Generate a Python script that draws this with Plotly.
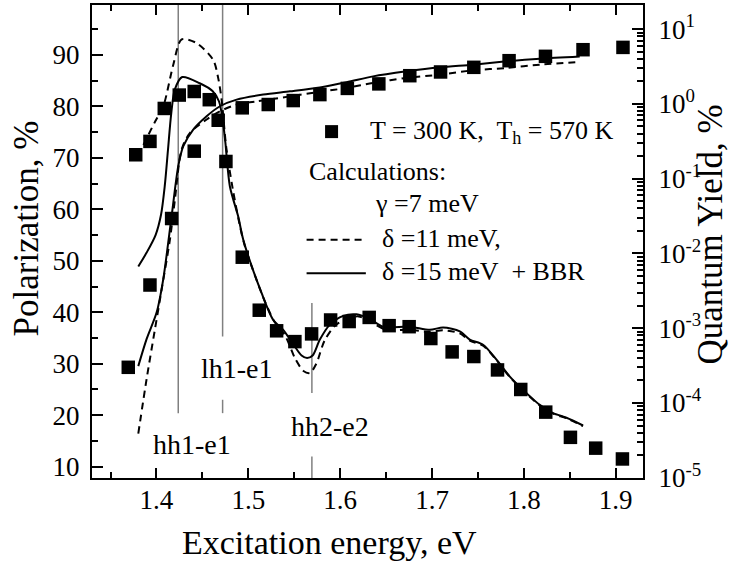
import plotly.graph_objects as go

# ---------------- data ----------------
# Measured polarization (%), left axis
pol_E = [1.3774, 1.3929, 1.4085, 1.4248, 1.4411, 1.4575, 1.4756, 1.4934, 1.5119,
         1.5308, 1.5507, 1.5689, 1.5896, 1.6098, 1.6316, 1.6533, 1.6751, 1.6987,
         1.7219, 1.7455, 1.7713, 1.7966, 1.8238, 1.8507, 1.8782, 1.9073]
pol_P = [70.6, 73.2, 79.6, 82.2, 82.9, 81.3, 69.3, 50.7, 40.4,
         36.4, 34.3, 35.8, 38.5, 38.2, 39.0, 37.4, 37.2, 34.9,
         32.3, 31.4, 28.8, 25.0, 20.6, 15.7, 13.6, 11.5]

# Measured quantum yield (%), right log axis
qy_E = [1.3693, 1.3929, 1.4165, 1.4411, 1.4672, 1.4934, 1.5217, 1.5489, 1.5779,
        1.6078, 1.6421, 1.6758, 1.7093, 1.7455, 1.7839, 1.8235, 1.8644, 1.9079]
qy_V = [3.0e-4, 3.78e-3, 0.0293, 0.233, 0.604, 0.885, 0.98, 1.107, 1.33,
        1.61, 1.85, 2.38, 2.67, 3.08, 3.78, 4.32, 5.30, 5.69]

# Calculated polarization, delta = 11 meV (dashed)
pol_dash_E = [1.3802, 1.3893, 1.3984, 1.4074, 1.4183, 1.4274, 1.4437, 1.4618, 1.4672,
              1.4709, 1.4760, 1.4830, 1.4900, 1.4960, 1.5160, 1.5290, 1.5400, 1.5510,
              1.5600, 1.5670, 1.5740, 1.5830, 1.5950, 1.6080, 1.6200, 1.6340, 1.6500,
              1.6757, 1.6976, 1.7121, 1.7303, 1.7411, 1.7556, 1.7702, 1.7847, 1.8028,
              1.8173, 1.8318, 1.8464, 1.8644]
pol_dash_P = [70.4, 73.8, 77.0, 80.0, 88.1, 93.0, 92.3, 89.0, 85.5,
              81.3, 72.0, 64.0, 57.5, 53.0, 43.0, 38.0, 35.5, 31.0,
              28.6, 28.2, 30.0, 34.5, 37.5, 38.7, 39.2, 38.0, 36.6,
              36.6, 36.2, 36.5, 35.9, 34.5, 33.5, 30.7, 27.4, 24.2,
              21.9, 20.3, 19.4, 17.9]

# Calculated polarization, delta = 15 meV + BBR (solid)
pol_sol_E = [1.3802, 1.3893, 1.3990, 1.4050, 1.4090, 1.4125, 1.4160, 1.4200, 1.4280,
             1.4470, 1.4610, 1.4680, 1.4720, 1.4750, 1.4800, 1.4890, 1.4945, 1.5145,
             1.5271, 1.5380, 1.5500, 1.5580, 1.5640, 1.5700, 1.5779, 1.5888, 1.6033,
             1.6178, 1.6323, 1.6468, 1.6757, 1.6976, 1.7121, 1.7303, 1.7411, 1.7556,
             1.7702, 1.7847, 1.8028, 1.8173, 1.8318, 1.8464, 1.8644]
pol_sol_P = [48.9, 51.6, 55.0, 59.0, 64.5, 71.5, 78.5, 83.3, 85.7,
             84.5, 83.0, 81.0, 77.5, 73.0, 64.4, 58.6, 54.1, 43.7,
             38.5, 36.6, 33.5, 31.6, 31.1, 31.6, 34.7, 37.6, 39.3,
             39.6, 38.7, 37.2, 37.2, 36.6, 37.05, 36.3, 34.7, 33.7,
             30.8, 27.5, 24.3, 22.0, 20.4, 19.5, 18.0]

# Calculated quantum yield, dashed
qy_dash_E = [1.3802, 1.3893, 1.3984, 1.4057, 1.4147, 1.4201, 1.4274, 1.4365, 1.4546,
             1.4691, 1.4873, 1.5090, 1.5453, 1.5815, 1.6070, 1.6359, 1.6723, 1.7085,
             1.7447, 1.7811, 1.8173, 1.8608]
qy_dash_V = [3.9e-5, 2.11e-4, 9.8e-4, 3.34e-3, 0.0155, 0.053, 0.246, 0.41, 0.618,
             0.796, 0.98, 1.08, 1.26, 1.47, 1.63, 1.91, 2.22, 2.46,
             2.81, 3.02, 3.34, 3.63]

# Calculated quantum yield, solid
qy_sol_E = [1.3802, 1.3893, 1.4002, 1.4074, 1.4165, 1.4237, 1.4292, 1.4400, 1.4546,
            1.4691, 1.4873, 1.5162, 1.5453, 1.5779, 1.6070, 1.6359, 1.6723, 1.7085,
            1.7447, 1.7811, 1.8173, 1.8608]
qy_sol_V = [3.11e-4, 7.19e-4, 1.63e-3, 4.54e-3, 0.0317, 0.147, 0.272, 0.454, 0.684,
            0.929, 1.14, 1.33, 1.47, 1.66, 1.94, 2.33, 2.72, 3.08,
            3.34, 3.70, 4.02, 4.31]

# Transition energies (eV) and their labels
trans_E = [1.4237, 1.4720, 1.5692]
trans_labels = ["hh1-e1", "lh1-e1", "hh2-e2"]

# Tick labels
x_ticks = [1.4, 1.5, 1.6, 1.7, 1.8, 1.9]
y_ticks = [10, 20, 30, 40, 50, 60, 70, 80, 90]
qy_exps = [-5, -4, -3, -2, -1, 0, 1]
qy_ticktext = ["10<sup>%d</sup>" % e for e in qy_exps]

# ---------------- figure ----------------
W, H = 730, 563
L, R, T, B = 92, 643.3, 5, 478.3
FONT = "Liberation Serif, Times New Roman, serif"


def px(x, y):
    return (x - L) / (R - L), (B - y) / (B - T)


fig = go.Figure()

line_w = 2
dash = "7px,5px"
fig.add_trace(go.Scatter(x=pol_dash_E, y=pol_dash_P, mode="lines", yaxis="y",
                         line=dict(color="black", width=line_w, dash=dash, shape="spline", smoothing=0.8)))
fig.add_trace(go.Scatter(x=pol_sol_E, y=pol_sol_P, mode="lines", yaxis="y",
                         line=dict(color="black", width=line_w, shape="spline", smoothing=0.8)))
fig.add_trace(go.Scatter(x=qy_dash_E, y=qy_dash_V, mode="lines", yaxis="y2",
                         line=dict(color="black", width=line_w, dash=dash, shape="spline", smoothing=0.8)))
fig.add_trace(go.Scatter(x=qy_sol_E, y=qy_sol_V, mode="lines", yaxis="y2",
                         line=dict(color="black", width=line_w, shape="spline", smoothing=0.8)))
fig.add_trace(go.Scatter(x=pol_E, y=pol_P, mode="markers", yaxis="y",
                         marker=dict(symbol="square", size=13.5, color="black")))
fig.add_trace(go.Scatter(x=qy_E, y=qy_V, mode="markers", yaxis="y2",
                         marker=dict(symbol="square", size=13.5, color="black")))

y_lo, y_hi = 7.8, 99.7
gray = "#808080"
# vertical transition lines (segments interrupted by labels)
segs = [
    (trans_E[0], 20.4, y_hi),
    (trans_E[1], 35.3, y_hi),
    (trans_E[1], 20.4, 23.0),
    (trans_E[2], 24.3, 41.8),
    (trans_E[2], y_lo, 12.0),
]
for xe, ya, yb in segs:
    fig.add_shape(type="line", xref="x", yref="y", x0=xe, x1=xe, y0=ya, y1=yb,
                  line=dict(color=gray, width=1.5), layer="below")

# transition labels
lab_pos = [(191.7, 445), (236.7, 368.3), (330, 426.7)]
for (lx, ly), txt in zip(lab_pos, trans_labels):
    ax_, ay_ = px(lx, ly)
    fig.add_annotation(x=ax_, y=ay_, xref="paper", yref="paper", text=txt, showarrow=False,
                       xanchor="center", yanchor="middle", font=dict(family=FONT, size=28, color="black"))

# legend block
sx0, sy0 = px(325.2, 138.2)
sx1, sy1 = px(338.2, 125.2)
fig.add_shape(type="rect", xref="paper", yref="paper", x0=sx0, x1=sx1, y0=sy0, y1=sy1,
              fillcolor="black", line=dict(width=0))
legend_lines = [(240, dash), (273.3, "solid")]
for ly, dsh in legend_lines:
    lx0, lyp = px(306.7, ly)
    lx1, _ = px(366.0, ly)
    fig.add_shape(type="line", xref="paper", yref="paper", x0=lx0, x1=lx1, y0=lyp, y1=lyp,
                  line=dict(color="black", width=2, dash=dsh))

legend_texts = [
    (368.3, 132, "T = 300 K,\u00a0 T<sub>h</sub> = 570 K"),
    (307.3, 172, "Calculations:"),
    (372.7, 204, "\u03b3 =7 meV"),
    (380, 239, "\u03b4 =11 meV,"),
    (380, 272, "\u03b4 =15 meV\u00a0 + BBR"),
]
for lx, ly, txt in legend_texts:
    ax_, ay_ = px(lx, ly)
    fig.add_annotation(x=ax_, y=ay_, xref="paper", yref="paper", text=txt, showarrow=False,
                       xanchor="left", yanchor="middle", font=dict(family=FONT, size=26, color="black"))

# axis titles
tx, ty = px(330, 543)
fig.add_annotation(x=tx, y=ty, xref="paper", yref="paper", text="Excitation energy, eV",
                   showarrow=False, xanchor="center", yanchor="middle",
                   font=dict(family=FONT, size=34, color="black"))
tx, ty = px(26, 228.5)
fig.add_annotation(x=tx, y=ty, xref="paper", yref="paper", text="Polarization, %", textangle=-90,
                   showarrow=False, xanchor="center", yanchor="middle",
                   font=dict(family=FONT, size=35, color="black"))
tx, ty = px(711, 235)
fig.add_annotation(x=tx, y=ty, xref="paper", yref="paper", text="Quantum Yield, %", textangle=-90,
                   showarrow=False, xanchor="center", yanchor="middle",
                   font=dict(family=FONT, size=35, color="black"))

minor_qy = [m * 10 ** e for e in range(-5, 1) for m in range(2, 10)]

fig.update_layout(
    width=W, height=H,
    margin=dict(l=L, r=W - R, t=T, b=H - B, autoexpand=False),
    paper_bgcolor="white", plot_bgcolor="white",
    showlegend=False,
    font=dict(family=FONT, size=27, color="black"),
    xaxis=dict(range=[1.3298, 1.9297], tickmode="array", tickvals=x_ticks,
               ticktext=["%.1f" % v for v in x_ticks],
               ticks="inside", ticklen=10, tickwidth=1.5, tickcolor="black",
               minor=dict(tickmode="linear", tick0=1.35, dtick=0.1, ticks="inside", ticklen=6,
                          tickwidth=1.5, tickcolor="black"),
               showline=True, linewidth=2, linecolor="black", mirror="ticks",
               showgrid=False, zeroline=False, ticklabelstandoff=-3,
               tickfont=dict(family=FONT, size=27)),
    yaxis=dict(range=[y_lo, y_hi], tickmode="array", tickvals=y_ticks,
               ticks="inside", ticklen=11, tickwidth=1.5, tickcolor="black",
               minor=dict(tickmode="linear", tick0=15, dtick=10, ticks="inside", ticklen=6,
                          tickwidth=1.5, tickcolor="black"),
               showline=True, linewidth=2, linecolor="black",
               showgrid=False, zeroline=False, ticklabelstandoff=5,
               tickfont=dict(family=FONT, size=27)),
    yaxis2=dict(type="log", range=[-5.003, 1.322], overlaying="y", side="right",
                tickmode="array", tickvals=[10 ** e for e in qy_exps], ticktext=qy_ticktext,
                ticks="inside", ticklen=11, tickwidth=1.5, tickcolor="black",
                minor=dict(tickmode="array", tickvals=minor_qy, ticks="inside", ticklen=6,
                           tickwidth=1.5, tickcolor="black"),
                showline=True, linewidth=2, linecolor="black",
                showgrid=False, zeroline=False, ticklabelstandoff=8,
                tickfont=dict(family=FONT, size=27)),
)

fig.write_html("out.html", config={"displayModeBar": False},
               post_script="document.body.style.margin='0';document.body.style.overflow='hidden';")
